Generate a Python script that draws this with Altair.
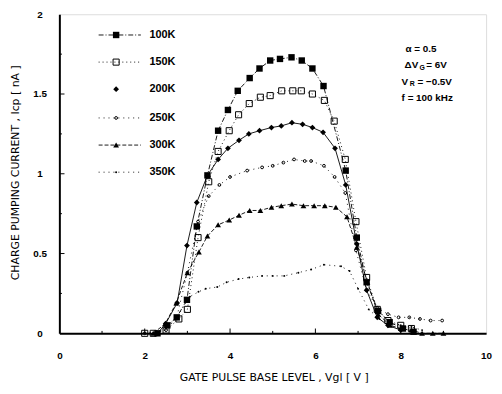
import altair as alt
import pandas as pd

# ---------------- data ----------------
series = ["100K", "150K", "200K", "250K", "300K", "350K"]

x_100 = [2.3, 2.53, 2.75, 2.99, 3.22, 3.47, 3.72, 3.95, 4.18, 4.46, 4.69, 4.94, 5.17, 5.44, 5.68, 5.93, 6.19, 6.71, 6.97, 7.2, 7.47, 7.74, 8.05, 8.3]
y_100 = [0.0, 0.05, 0.10, 0.21, 0.67, 0.99, 1.27, 1.40, 1.52, 1.60, 1.66, 1.71, 1.72, 1.73, 1.71, 1.66, 1.55, 1.02, 0.60, 0.32, 0.14, 0.07, 0.03, 0.01]

x_150 = [2.0, 2.2, 2.5, 2.8, 3.0, 3.25, 3.5, 3.72, 3.98, 4.2, 4.45, 4.71, 4.94, 5.21, 5.47, 5.67, 5.93, 6.21, 6.44, 6.7, 6.95, 7.2, 7.45, 7.7, 8.0, 8.25]
y_150 = [0.0, 0.0, 0.02, 0.09, 0.15, 0.60, 0.95, 1.14, 1.27, 1.37, 1.44, 1.48, 1.49, 1.52, 1.52, 1.52, 1.50, 1.46, 1.33, 1.09, 0.70, 0.35, 0.15, 0.08, 0.05, 0.03]

x_200 = [2.3, 2.49, 2.76, 2.99, 3.22, 3.47, 3.72, 3.95, 4.21, 4.44, 4.69, 4.97, 5.2, 5.45, 5.7, 5.93, 6.18, 6.46, 6.71, 6.97, 7.2, 7.45, 7.7, 8.0]
y_200 = [0.0, 0.06, 0.19, 0.55, 0.82, 0.99, 1.09, 1.16, 1.21, 1.25, 1.27, 1.29, 1.30, 1.32, 1.31, 1.29, 1.26, 1.16, 0.93, 0.56, 0.27, 0.10, 0.05, 0.02]

x_250 = [2.0, 2.5, 2.75, 3.0, 3.25, 3.5, 3.75, 4.0, 4.4, 4.75, 5.0, 5.25, 5.5, 5.75, 5.9, 6.2, 6.45, 6.7, 6.95, 7.2, 7.45, 7.7, 7.95, 8.2, 8.45, 8.7, 8.97]
y_250 = [0.0, 0.02, 0.10, 0.38, 0.70, 0.86, 0.93, 0.98, 1.02, 1.04, 1.05, 1.07, 1.09, 1.08, 1.08, 1.05, 0.98, 0.88, 0.52, 0.27, 0.16, 0.12, 0.10, 0.10, 0.09, 0.08, 0.08]

x_300 = [2.2, 2.48, 2.74, 3.0, 3.27, 3.47, 3.72, 3.98, 4.21, 4.46, 4.71, 4.97, 5.2, 5.45, 5.72, 5.97, 6.22, 6.48, 6.74, 6.97, 7.22, 7.47, 7.75, 8.0, 8.25, 8.5, 8.75, 9.0]
y_300 = [0.0, 0.06, 0.19, 0.38, 0.51, 0.61, 0.68, 0.71, 0.74, 0.77, 0.77, 0.79, 0.80, 0.81, 0.80, 0.80, 0.80, 0.79, 0.73, 0.54, 0.32, 0.12, 0.05, 0.03, 0.02, 0.0, 0.0, 0.0]

x_350 = [2.0, 2.3, 2.5, 2.75, 3.06, 3.26, 3.43, 3.7, 3.92, 4.2, 4.45, 4.75, 5.0, 5.27, 5.6, 5.9, 6.2, 6.6, 6.8, 7.0, 7.25, 7.5, 7.75, 8.0, 8.25, 8.5]
y_350 = [0.0, 0.0, 0.03, 0.10, 0.23, 0.26, 0.28, 0.29, 0.32, 0.34, 0.35, 0.36, 0.36, 0.36, 0.38, 0.40, 0.43, 0.42, 0.39, 0.28, 0.15, 0.09, 0.06, 0.05, 0.04, 0.02]

xs = [x_100, x_150, x_200, x_250, x_300, x_350]
ys = [y_100, y_150, y_200, y_250, y_300, y_350]

# legend rows (data units inside the plot)
legend_y = [1.87, 1.70, 1.53, 1.35, 1.18, 1.01]

# annotation text
ann_main = ["\u03b1 = 0.5", "\u0394V", "= 6V", "V", "= \u22120.5V", "f = 100 kHz"]
ann_x = [8.11, 8.09, 8.60, 8.02, 8.39, 8.02]
ann_y = [1.78, 1.68, 1.68, 1.575, 1.575, 1.475]
sub_text = ["G", "R"]
sub_x = [8.44, 8.21]
sub_y = [1.665, 1.56]

# axis ticks
y_minor = [0.25, 0.5, 0.75, 1.0, 1.25, 1.5, 1.75]
x_minor = [1, 2, 3, 4, 5, 6, 7, 8, 9]

# ---------------- styles ----------------
styles = {
    "100K": dict(dash=[5, 2, 1, 2], shape="square", filled=True, size=42),
    "150K": dict(dash=[1, 3], shape="square", filled=False, size=38),
    "200K": dict(dash=None, shape="diamond", filled=True, size=34),
    "250K": dict(dash=[1, 4], shape="circle", filled=False, size=8),
    "300K": dict(dash=[4, 2], shape="triangle-up", filled=True, size=34),
    "350K": dict(dash=[1, 4], shape="circle", filled=True, size=4),
}

FONT = "Liberation Sans"

xscale = alt.Scale(domain=[0, 10], nice=False, zero=False)
yscale = alt.Scale(domain=[0, 2], nice=False, zero=False)

xaxis = alt.Axis(values=[0, 2, 4, 6, 8, 10], format=".1~f", ticks=False, grid=False,
                 domainWidth=2, domainColor="black", labelFont=FONT, labelFontWeight="bold",
                 labelFontSize=10, labelColor="black", labelPadding=18, labelFlush=False,
                 titleFont="DejaVu Sans", titleFontWeight="normal", titleFontSize=11,
                 titleColor="black", titleX=217, titleY=45, titleBaseline="middle")
yaxis = alt.Axis(values=[0, 0.5, 1, 1.5, 2], format=".1~f", ticks=False, grid=False,
                 domainWidth=2, domainColor="black", labelFont=FONT, labelFontWeight="bold",
                 labelFontSize=10, labelColor="black", labelPadding=20, labelAlign="center",
                 labelBaseline="middle", labelFlush=False,
                 titleFont="DejaVu Sans", titleFontWeight="normal", titleFontSize=11,
                 titleColor="black", titleX=-44, titleY=160, titleAngle=270,
                 titleBaseline="middle")

XT = "GATE  PULSE  BASE  LEVEL , Vgl [ V ]"
YT = "CHARGE  PUMPING  CURRENT , Icp [ nA ]"


def X(field="x"):
    return alt.X(f"{field}:Q", scale=xscale, axis=xaxis, title=XT)


def Y(field="y"):
    return alt.Y(f"{field}:Q", scale=yscale, axis=yaxis, title=YT)


layers = []
for s, xv, yv, ly in zip(series, xs, ys, legend_y):
    st = styles[s]
    df = pd.DataFrame({"x": xv, "y": yv})
    line_kw = dict(color="black", strokeWidth=0.9)
    if st["dash"]:
        line_kw["strokeDash"] = st["dash"]
    layers.append(alt.Chart(df).mark_line(**line_kw).encode(x=X(), y=Y()))
    layers.append(alt.Chart(df).mark_point(shape=st["shape"], filled=st["filled"], size=st["size"],
                                           color="black", strokeWidth=1, opacity=1)
                  .encode(x=X(), y=Y()))
    # legend row
    ldf = pd.DataFrame({"x": [0.92], "x2": [1.91], "xm": [1.33], "xt": [2.11], "y": [ly], "label": [s]})
    if s != "200K":
        rule_kw = dict(color="black", strokeWidth=0.9)
        if st["dash"]:
            rule_kw["strokeDash"] = st["dash"]
        layers.append(alt.Chart(ldf).mark_rule(**rule_kw).encode(x=X(), x2="x2:Q", y=Y()))
    layers.append(alt.Chart(ldf).mark_point(shape=st["shape"], filled=st["filled"], size=st["size"],
                                            color="black", strokeWidth=1, opacity=1)
                  .encode(x=X("xm"), y=Y()))
    layers.append(alt.Chart(ldf).mark_text(align="left", baseline="middle", font=FONT,
                                           fontWeight="bold", fontSize=11, color="black")
                  .encode(x=X("xt"), y=Y(), text="label:N"))

# annotations
adf = pd.DataFrame({"x": ann_x, "y": ann_y, "t": ann_main})
layers.append(alt.Chart(adf).mark_text(align="left", baseline="middle", font=FONT,
                                       fontWeight="bold", fontSize=10, color="black")
              .encode(x=X(), y=Y(), text="t:N"))
sdf = pd.DataFrame({"x": sub_x, "y": sub_y, "t": sub_text})
layers.append(alt.Chart(sdf).mark_text(align="left", baseline="middle", font=FONT,
                                       fontWeight="bold", fontSize=7, color="black")
              .encode(x=X(), y=Y(), text="t:N"))

# inward ticks
ytdf = pd.DataFrame({"y": y_minor, "x": [0.0] * len(y_minor),
                     "x2": [0.12 if (v * 2) % 1 == 0 else 0.06 for v in y_minor]})
layers.append(alt.Chart(ytdf).mark_rule(color="black", strokeWidth=1)
              .encode(x=X(), x2="x2:Q", y=Y()))
xtdf = pd.DataFrame({"x": x_minor, "y": [0.0] * len(x_minor),
                     "y2": [0.03 if v % 2 == 0 else 0.015 for v in x_minor]})
layers.append(alt.Chart(xtdf).mark_rule(color="black", strokeWidth=1)
              .encode(x=X(), y=Y(), y2="y2:Q"))

chart = alt.layer(*layers).properties(
    width=432, height=323,
    padding={"left": 52, "top": 4, "right": 8, "bottom": 50},
    autosize=alt.AutoSizeParams(type="none"),
).configure_view(stroke="black", strokeWidth=1.3).configure(background="white")

chart.save("out.html", embed_options={"renderer": "svg", "actions": False})
